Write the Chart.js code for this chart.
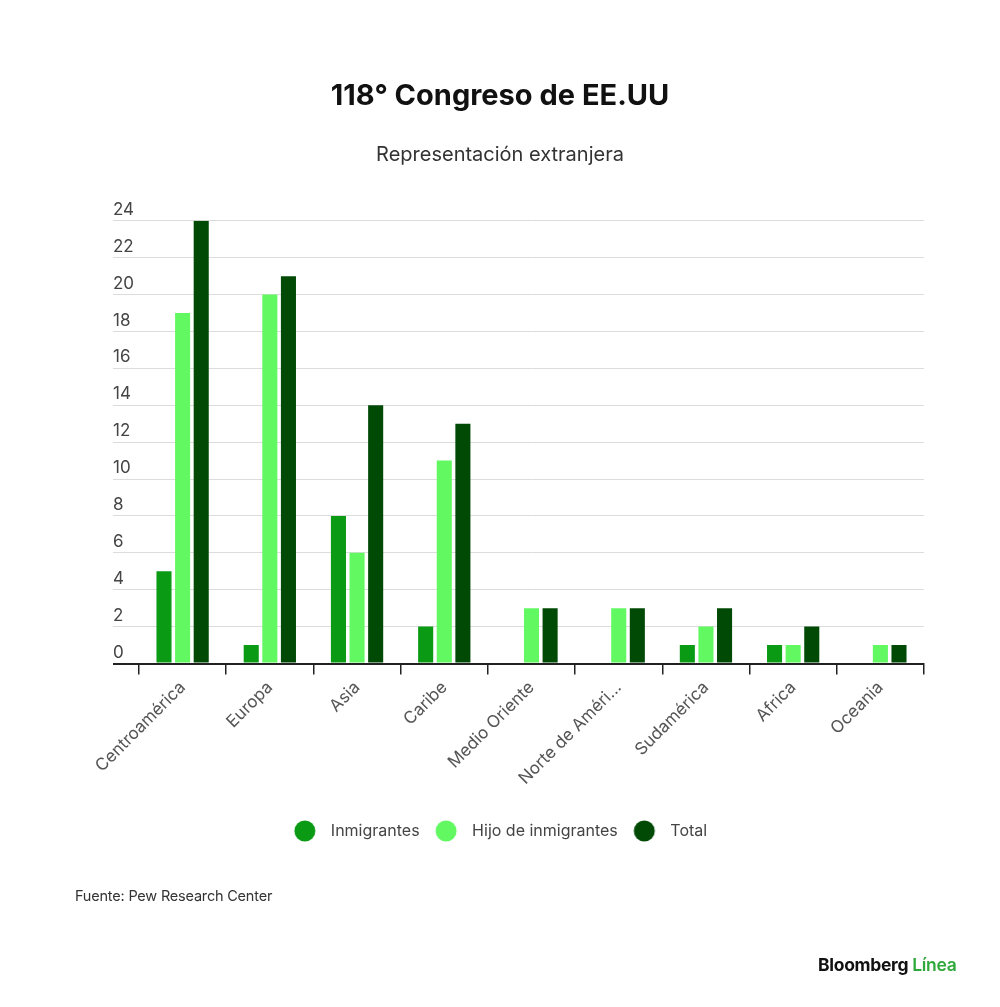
<!DOCTYPE html>
<html>
<head>
<meta charset="utf-8">
<script src="https://cdn.jsdelivr.net/npm/chart.js@4/dist/chart.umd.min.js"></script>
<style>
  html, body { margin: 0; padding: 0; background: #fff; }
  #wrap { position: relative; width: 1000px; height: 1007px; }
  #source { position: absolute; left: 75px; top: 887px; font: 14.5px Inter, sans-serif; color: #333; letter-spacing: -0.2px; }
  #logo { position: absolute; left: 818px; top: 954px; font: bold 17.5px Inter, sans-serif; color: #111; letter-spacing: -0.3px; }
  #logo span { color: #2fa83a; font-weight: 600; }
</style>
</head>
<body>
<div id="wrap">
  <canvas id="chart" width="1000" height="1007"></canvas>
  <div id="source">Fuente: Pew Research Center</div>
  <div id="logo">Bloomberg <span>Línea</span></div>
</div>
<script>
var regions = ['Centroamérica', 'Europa', 'Asia', 'Caribe', 'Medio Oriente', 'Norte de Améri...', 'Sudamérica', 'Africa', 'Oceania'];
var inmigrantes = [5, 1, 8, 2, null, null, 1, 1, null];
var hijos = [19, 20, 6, 11, 3, 3, 2, 1, 1];
var total = [24, 21, 14, 13, 3, 3, 3, 2, 1];

var colors = ['#0a9a14', '#62f862', '#004a06'];
var font = 'Inter, sans-serif';

// legend dots: a circle on the left of a wider canvas, so the text sits further away
function makeDot(col){
  var c = document.createElement('canvas');
  c.width = 30; c.height = 22;
  var g = c.getContext('2d');
  g.fillStyle = col;
  g.beginPath();
  g.arc(12, 11, 10.5, 0, Math.PI * 2);
  g.fill();
  return c;
}
var dots = colors.map(makeDot);

var ctx = document.getElementById('chart').getContext('2d');
new Chart(ctx, {
  type: 'bar',
  data: {
    labels: regions,
    datasets: [{
      label: 'Inmigrantes',
      backgroundColor: colors[0],
      data: inmigrantes
    }, {
      label: 'Hijo de inmigrantes',
      backgroundColor: colors[1],
      data: hijos
    }, {
      label: 'Total',
      backgroundColor: colors[2],
      data: total
    }]
  },
  options: {
    responsive: false,
    animation: false,
    categoryPercentage: 0.64,
    barPercentage: 0.81,
    layout: {
      padding: { left: 76, right: 76, bottom: 158 }
    },
    plugins: {
      title: {
        display: true,
        text: '118° Congreso de EE.UU',
        color: '#111',
        font: { family: font, size: 29, weight: 'bold' },
        padding: { top: 79, bottom: 29 }
      },
      subtitle: {
        display: true,
        text: 'Representación extranjera',
        color: '#333',
        font: { family: font, size: 20 },
        padding: { top: 0, bottom: 54 }
      },
      legend: {
        position: 'bottom',
        labels: {
          color: '#444',
          font: { family: font, size: 16 },
          usePointStyle: true,
          pointStyleWidth: 30,
          boxHeight: 16,
          padding: 14.5,
          generateLabels: function(chart){
            var items = Chart.defaults.plugins.legend.labels.generateLabels(chart);
            items.forEach(function(it, i){ it.pointStyle = dots[i]; });
            return items;
          }
        }
      },
      tooltip: { enabled: false }
    },
    scales: {
      x: {
        border: { display: true, color: '#222', width: 2 },
        grid: {
          display: true,
          drawOnChartArea: false,
          drawTicks: true,
          tickLength: 11,
          color: '#222',
          lineWidth: 1.5
        },
        ticks: {
          color: '#555',
          font: { family: font, size: 17 },
          minRotation: 45,
          maxRotation: 45,
          autoSkip: false
        },
        afterFit: function(scale){ scale.height = 145; }
      },
      y: {
        min: 0,
        max: 24,
        border: { display: false },
        grid: {
          color: function(c){ return c.tick && c.tick.value === 0 ? '#222' : '#dcdcdc'; },
          lineWidth: function(c){ return c.tick && c.tick.value === 0 ? 2 : 1; },
          drawTicks: true,
          tickLength: 26
        },
        ticks: {
          stepSize: 2,
          mirror: true,
          crossAlign: 'near',
          labelOffset: -11,
          padding: -26,
          color: '#444',
          font: { family: font, size: 17 }
        },
        afterFit: function(scale){ scale.width = 63; }
      }
    }
  }
});
</script>
</body>
</html>
